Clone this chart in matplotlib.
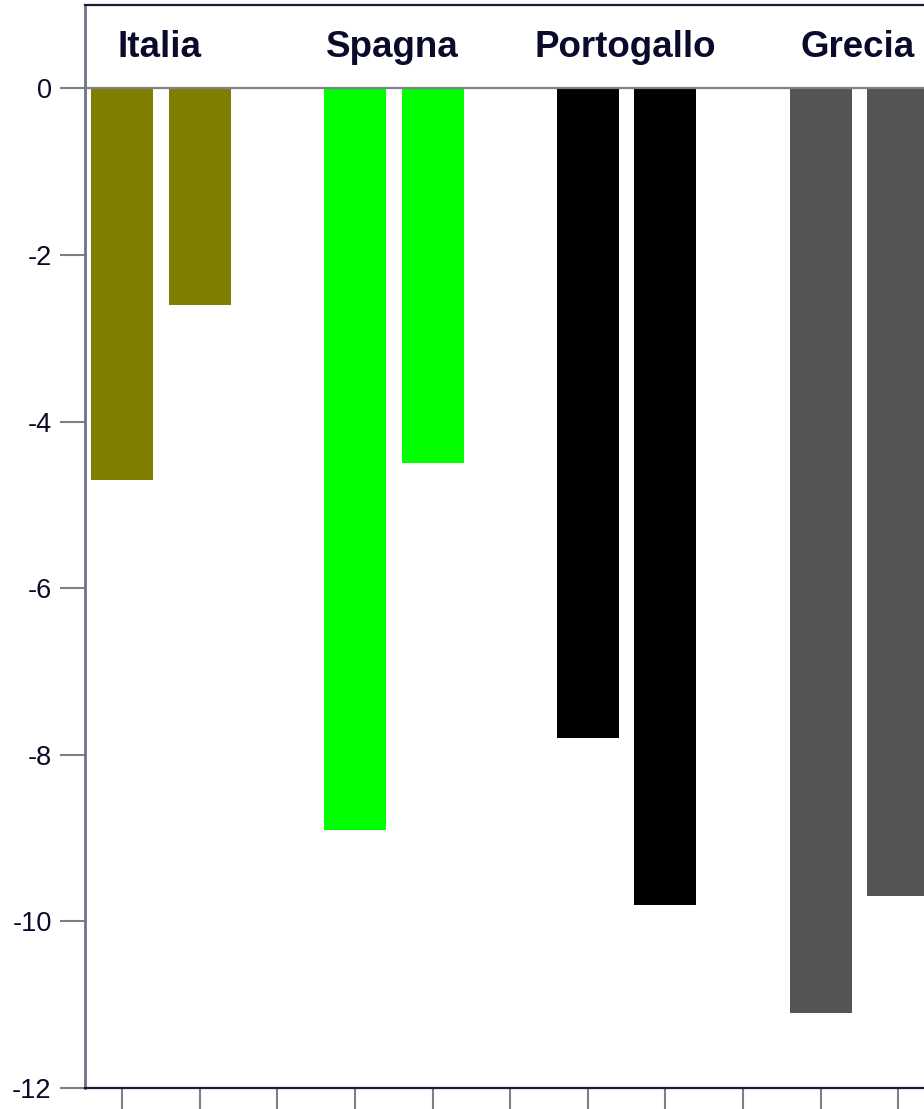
import matplotlib
matplotlib.use("Agg")
import matplotlib.pyplot as plt

# data
countries = ["Italia", "Spagna", "Portogallo", "Grecia"]
bar_colors = ["#808000", "#00ff00", "#000000", "#555555"]
first_vals = [-4.7, -8.9, -7.8, -11.1]
second_vals = [-2.6, -4.5, -9.8, -9.7]
y_ticks = [0, -2, -4, -6, -8, -10, -12]

plt.rcParams['font.family'] = ['Liberation Sans', 'DejaVu Sans']

fig = plt.figure(figsize=(9.24, 11.09), dpi=100)
# axes runs off the right edge, like the reference crop
ax = fig.add_axes([85 / 924, 21 / 1109, 852 / 924, 1083 / 1109])

text_col = "#0a0a2a"
for i, name in enumerate(countries):
    x0 = i * 3
    ax.bar(x0, first_vals[i], width=0.8, color=bar_colors[i])
    ax.bar(x0 + 1, second_vals[i], width=0.8, color=bar_colors[i])
    ax.text(x0 + 0.48, 0.49, name, ha='center', va='center',
            fontsize=26.5, fontweight='bold', color=text_col)

ax.axhline(0, color="#7f7f8a", lw=1.6, zorder=3)

ax.set_xlim(-0.48, 10.5)
ax.set_ylim(-12, 1.0)
ax.set_yticks(y_ticks)
ax.set_yticklabels([str(v) for v in y_ticks])
ax.set_xticks(range(0, 11))
ax.set_xticklabels([])

ax.tick_params(axis='y', direction='out', length=18, width=1.5, color="#808080",
               labelsize=19.5, labelcolor=text_col, pad=6)
ax.tick_params(axis='x', direction='out', length=17, width=1.5, color="#808080")

ax.spines['left'].set_color("#70708a")
ax.spines['left'].set_linewidth(2)
ax.spines['top'].set_color("#1a1a3a")
ax.spines['top'].set_linewidth(1.6)
ax.spines['bottom'].set_color("#1a1a3a")
ax.spines['bottom'].set_linewidth(1.6)
ax.spines['right'].set_visible(False)

fig.savefig("out.png", dpi=100)
